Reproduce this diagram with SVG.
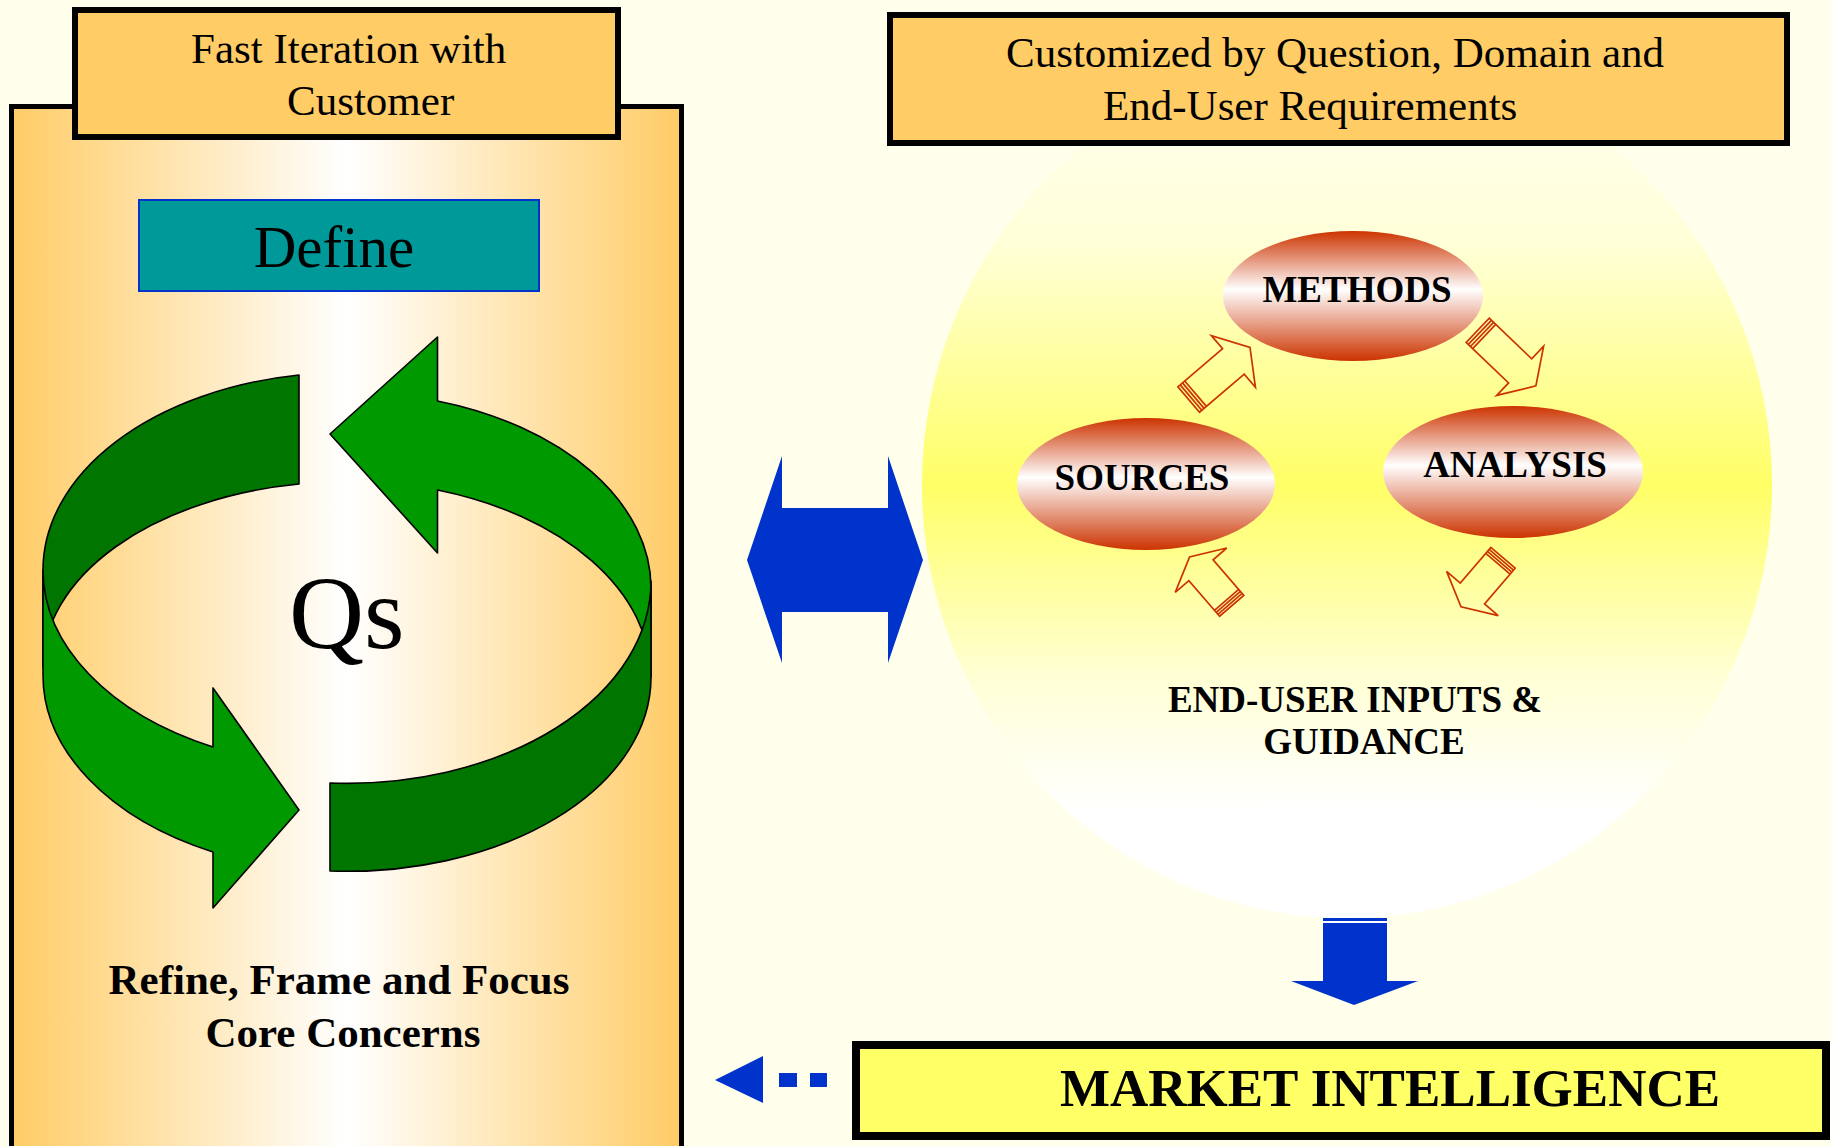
<svg xmlns="http://www.w3.org/2000/svg" xmlns:xlink="http://www.w3.org/1999/xlink" width="1831" height="1146" viewBox="0 0 1831 1146">
  <defs>
    <linearGradient id="panelGrad" x1="0" y1="0" x2="1" y2="0">
      <stop offset="0" stop-color="#FFCC66"/>
      <stop offset="0.5" stop-color="#FFFFFF"/>
      <stop offset="1" stop-color="#FFCC66"/>
    </linearGradient>
    <linearGradient id="circleGrad" x1="0" y1="0" x2="0" y2="1">
      <stop offset="0" stop-color="#FFFFF4"/>
      <stop offset="0.22" stop-color="#FFFFD8"/>
      <stop offset="0.5" stop-color="#FFFF66"/>
      <stop offset="0.72" stop-color="#FFFFD4"/>
      <stop offset="0.88" stop-color="#FFFFFF"/>
      <stop offset="1" stop-color="#FFFFFF"/>
    </linearGradient>
    <linearGradient id="ovalGrad" x1="0" y1="0" x2="0" y2="1">
      <stop offset="0" stop-color="#CC3300"/>
      <stop offset="0.45" stop-color="#FFFFFF"/>
      <stop offset="1" stop-color="#CC3300"/>
    </linearGradient>
    <g id="hollowBig">
      <polygon points="0,-16.7 58.7,-16.7 58.7,-34 80.5,0 58.7,34 58.7,16.7 0,16.7"/>
      <line x1="3" y1="-16.7" x2="3" y2="16.7"/>
      <line x1="6" y1="-16.7" x2="6" y2="16.7"/>
      <line x1="9" y1="-16.7" x2="9" y2="16.7"/>
    </g>
    <g id="hollowSmall">
      <polygon points="0,-16 47,-16 47,-34 64.5,0 47,34 47,16 0,16"/>
      <line x1="2.6" y1="-16" x2="2.6" y2="16"/>
      <line x1="5.2" y1="-16" x2="5.2" y2="16"/>
      <line x1="7.8" y1="-16" x2="7.8" y2="16"/>
    </g>
  </defs>
  <style>
    .serif { font-family: "Liberation Serif", "Times New Roman", serif; fill: #000000; }
    .bold { font-weight: bold; }
    .hdr { font-size: 43px; }
    .lbl { font-size: 37px; }
    .box { fill: #FFCC66; stroke: #000000; stroke-width: 6; }
    .g-dark { fill: #007500; stroke: #000000; stroke-width: 1.6; stroke-linejoin: round; }
    .g-bright { fill: #009900; stroke: #000000; stroke-width: 1.6; stroke-linejoin: round; }
    .oval { fill: url(#ovalGrad); }
    .hollow { fill: none; stroke: #CC3300; stroke-width: 1.7; stroke-linejoin: miter; }
    .blue { fill: #0033CC; }
  </style>

  <rect x="0" y="0" width="1831" height="1146" fill="#FFFFEB"/>

  <!-- Left panel -->
  <g id="left-panel">
    <rect x="11.5" y="106.5" width="670" height="1100" fill="url(#panelGrad)" stroke="#000000" stroke-width="5"/>
  </g>

  <g id="fast-iteration">
    <rect class="box" x="75" y="10" width="543" height="127"/>
    <text class="serif hdr" x="191" y="63">Fast Iteration with</text>
    <text class="serif hdr" x="287" y="115">Customer</text>
  </g>

  <g id="define">
    <rect x="139" y="200" width="400" height="91" fill="#009999" stroke="#0033CC" stroke-width="2"/>
    <text class="serif" x="334" y="267" font-size="59" text-anchor="middle">Define</text>
  </g>

  <g id="cycle">
    <!-- left arrow: back (dark) then front (bright) -->
    <path class="g-dark" d="M299,375 A304,197.5 0 0 0 43,570 L43,667 A304,185.5 0 0 1 299,484 Z"/>
    <path class="g-bright" d="M43,570 L43,675 A304,197 0 0 0 213,852 L213,908 L299,810 L213,688 L213,747 A304,197.5 0 0 1 43,570 Z"/>
    <!-- right arrow: back (bright) then front (dark) -->
    <path class="g-bright" d="M437.5,401 A304,196 0 0 1 651,588 L651,677 A304,196 0 0 0 437.5,490 L437.5,553 L330,434 L437.5,337 Z"/>
    <path class="g-dark" d="M330,783 A304,202 0 0 0 651,581 L651,677 A304,194 0 0 1 330,871 Z"/>
    <text class="serif" x="289" y="648" font-size="104">Qs</text>
  </g>

  <g id="refine-text">
    <text class="serif bold hdr" x="339" y="994" text-anchor="middle">Refine, Frame and Focus</text>
    <text class="serif bold hdr" x="343" y="1047" text-anchor="middle">Core Concerns</text>
  </g>

  <!-- Right side -->
  <g id="inputs-circle">
    <ellipse cx="1347" cy="485" rx="425" ry="433" fill="url(#circleGrad)"/>
    <text class="serif bold lbl" x="1355" y="712" text-anchor="middle">END-USER INPUTS &amp;</text>
    <text class="serif bold lbl" x="1364" y="754" text-anchor="middle">GUIDANCE</text>
  </g>

  <g id="customized">
    <rect class="box" x="890" y="15" width="897" height="128"/>
    <text class="serif hdr" x="1006" y="67">Customized by Question, Domain and</text>
    <text class="serif hdr" x="1103" y="120">End-User Requirements</text>
  </g>

  <g id="methods">
    <ellipse class="oval" cx="1353" cy="296" rx="130" ry="65"/>
    <text class="serif bold lbl" x="1357" y="302" text-anchor="middle">METHODS</text>
  </g>
  <g id="sources">
    <ellipse class="oval" cx="1146" cy="484" rx="129" ry="66"/>
    <text class="serif bold lbl" x="1142" y="490" text-anchor="middle">SOURCES</text>
  </g>
  <g id="analysis">
    <ellipse class="oval" cx="1513" cy="472" rx="130" ry="66"/>
    <text class="serif bold lbl" x="1515" y="477" text-anchor="middle">ANALYSIS</text>
  </g>

  <g id="market-intelligence">
    <rect x="856" y="1045" width="970" height="91" fill="#FFFF66" stroke="#000000" stroke-width="8"/>
    <text class="serif bold" x="1390" y="1106" font-size="53" text-anchor="middle">MARKET INTELLIGENCE</text>
  </g>

  <g id="connectors">
    <g class="hollow">
      <use xlink:href="#hollowBig" transform="translate(1188.7,399.5) rotate(-40.4)"/>
      <use xlink:href="#hollowBig" transform="translate(1477.7,330.3) rotate(43.7)"/>
      <use xlink:href="#hollowSmall" transform="translate(1231.7,605.8) rotate(-130.8)"/>
      <use xlink:href="#hollowSmall" transform="translate(1503,557.8) rotate(130.6)"/>
    </g>
    <polygon class="blue" points="747,560 782,456 782,508 888,508 888,456 923,560 888,663 888,612 782,612 782,663"/>
    <polygon class="blue" points="1323,918 1387,918 1387,981 1418,981 1354,1005 1291,981 1323,981"/>
    <line x1="1323" y1="922" x2="1387" y2="922" stroke="#FFFFFF" stroke-width="2"/>
    <polygon class="blue" points="715,1080 763,1056 763,1103"/>
    <rect class="blue" x="779" y="1073" width="18" height="14"/>
    <rect class="blue" x="810" y="1073" width="17" height="14"/>
  </g>
</svg>
